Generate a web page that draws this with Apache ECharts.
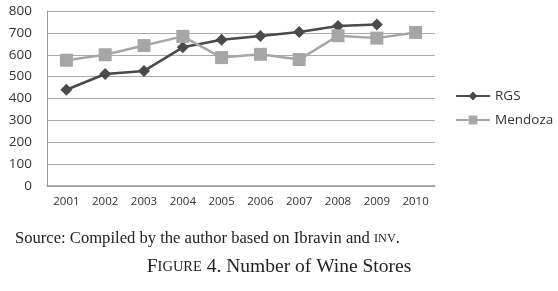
<!DOCTYPE html>
<html><head><meta charset="utf-8">
<script src="https://cdn.jsdelivr.net/npm/echarts@6/dist/echarts.min.js"></script>
<style>html,body{margin:0;padding:0;background:#fff}#c{width:558px;height:291px}</style>
</head><body><div id="c"></div>
<script>
const years = ['2001','2002','2003','2004','2005','2006','2007','2008','2009','2010'];
const rgs = [440, 512, 526, 634, 669, 686, 704, 731, 738, null];
const mendoza = [575, 600, 642, 684, 587, 602, 578, 687, 676, 702];
const yTicks = {min: 0, max: 800, interval: 100};

const chart = echarts.init(document.getElementById('c'));
chart.setOption({
  backgroundColor: '#fff',
  animation: false,
  grid: {left: 47, right: 123, top: 11, bottom: 105},
  legend: {
    orient: 'vertical', left: 450, top: 84, itemGap: 10,
    itemWidth: 34, itemHeight: 11,
    textStyle: {fontFamily: 'Open Sans', fontSize: 13.5, color: '#333'},
    data: ['RGS', 'Mendoza']
  },
  xAxis: {
    type: 'category', data: years, boundaryGap: true,
    axisLine: {lineStyle: {color: '#999', width: 1.5}},
    axisTick: {show: false},
    axisLabel: {fontFamily: 'Open Sans', fontSize: 11.5, color: '#333', margin: 10}
  },
  yAxis: {
    type: 'value', min: yTicks.min, max: yTicks.max, interval: yTicks.interval,
    axisLine: {show: true, lineStyle: {color: '#999', width: 1}},
    axisTick: {show: false},
    splitLine: {lineStyle: {color: '#aaa', width: 1}},
    axisLabel: {fontFamily: 'Open Sans', fontSize: 13.5, color: '#333', margin: 15}
  },
  series: [
    {name: 'RGS', type: 'line', data: rgs, symbol: 'diamond', symbolSize: 12,
     lineStyle: {color: '#4a4a4a', width: 2.5}, itemStyle: {color: '#4a4a4a'}},
    {name: 'Mendoza', type: 'line', data: mendoza, symbol: 'rect', symbolSize: 13,
     lineStyle: {color: '#a6a6a6', width: 2.5}, itemStyle: {color: '#a6a6a6'}}
  ],
  graphic: [
    {type: 'text', left: 15, top: 230,
     style: {rich: {a: {fontFamily: 'Liberation Serif', fontSize: 16.6, fill: '#222'},
                    sc: {fontFamily: 'Liberation Serif', fontSize: 12.3, fill: '#222'}},
             text: '{a|Source: Compiled by the author based on Ibravin and }{sc|INV}{a|.}'}},
    {type: 'text', left: 'center', top: 257,
     style: {rich: {a: {fontFamily: 'Liberation Serif', fontSize: 19.5, fill: '#222'},
                    sc: {fontFamily: 'Liberation Serif', fontSize: 14.5, fill: '#222'}},
             text: '{a|F}{sc|IGURE}{a| 4. Number of Wine Stores}'}}
  ]
});
</script>
</body></html>
